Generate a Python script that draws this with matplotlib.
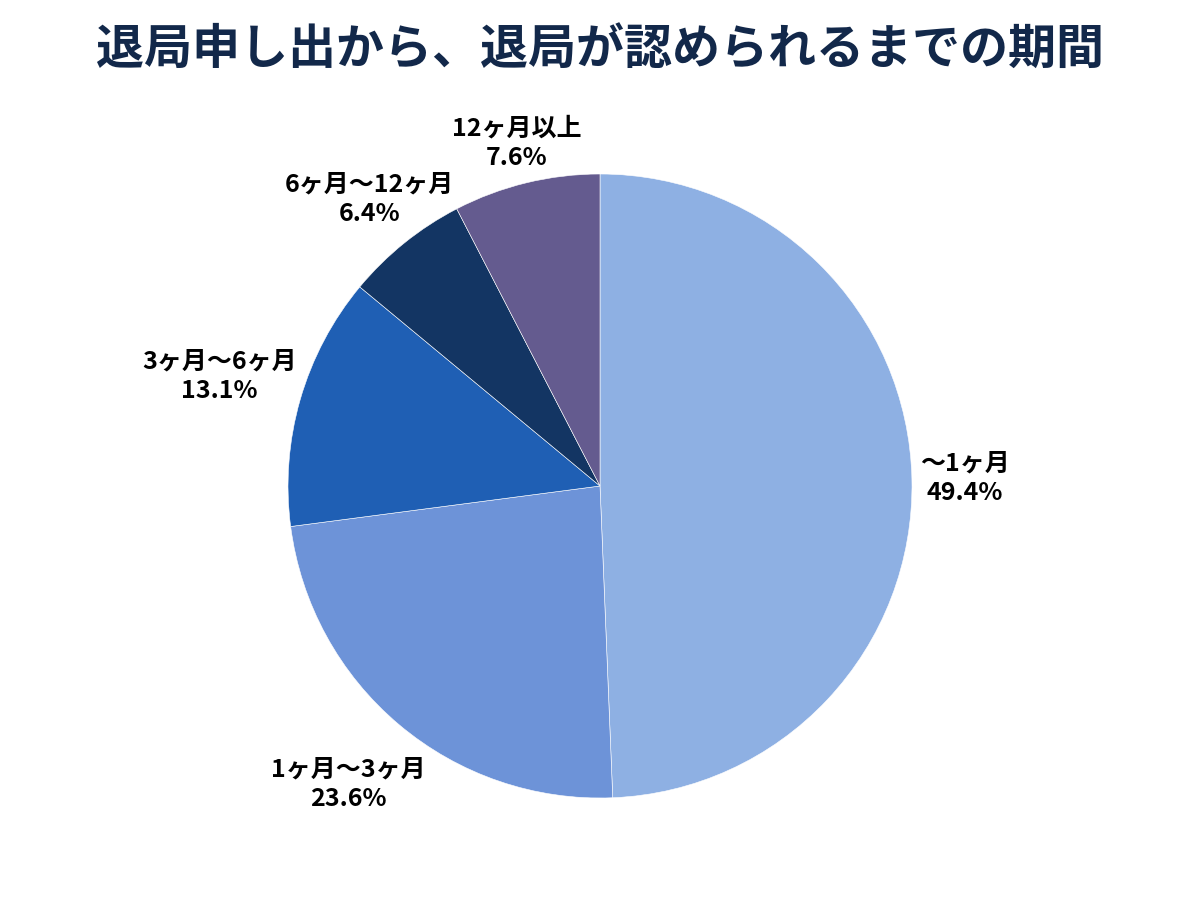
import numpy as np
import matplotlib
matplotlib.use('Agg')
import matplotlib.pyplot as plt

plt.rcParams['font.family'] = ['Noto Sans CJK JP', 'DejaVu Sans']

# データ
title = '退局申し出から、退局が認められるまでの期間'
labels = ['〜1ヶ月', '1ヶ月〜3ヶ月', '3ヶ月〜6ヶ月', '6ヶ月〜12ヶ月', '12ヶ月以上']
values = [49.4, 23.6, 13.1, 6.4, 7.6]

colors = ['#8EB0E3', '#6D93D8', '#1F5FB4', '#133563', '#645B8F']
label_dist = [1.17, 1.25, 1.27, 1.18, 1.13]

fig = plt.figure(figsize=(12, 9), dpi=100)
ax = fig.add_axes([0, 0, 1, 1])

wedges, _ = ax.pie(values, colors=colors, startangle=90, counterclock=False,
                   radius=1, wedgeprops=dict(edgecolor='white', linewidth=0.4))

# ラベルを扇形の中央角の外側に配置
for w, lab, v, d in zip(wedges, labels, values, label_dist):
    ang = np.deg2rad((w.theta1 + w.theta2) / 2)
    ax.text(d * np.cos(ang), d * np.sin(ang), f'{lab}\n{v}%',
            ha='center', va='center', fontsize=18, fontweight='bold',
            linespacing=1.3, color='black')

# 位置合わせ（半径312px、中心(600,486)）
r = 312
ax.set_xlim(-600 / r, 600 / r)
ax.set_ylim(-414 / r, 486 / r)
ax.set_aspect('equal')
ax.axis('off')

fig.text(0.5, 1 - 50 / 900, title, ha='center', va='center',
         fontsize=34.6, fontweight='bold', color='#12284A')

plt.savefig('out.png', dpi=100)
